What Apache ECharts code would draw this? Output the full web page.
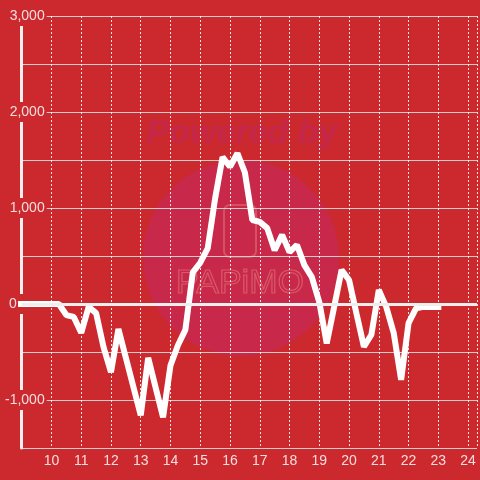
<!DOCTYPE html>
<html>
<head>
<meta charset="utf-8">
<script src="https://cdn.jsdelivr.net/npm/echarts@6/dist/echarts.min.js"></script>
<style>
html,body{margin:0;padding:0;background:#cc292e;}
#chart{width:480px;height:480px;}
</style>
</head>
<body>
<div id="chart"></div>
<script>
// Hours of day (15-minute samples)
const times = [8.75, 9, 9.25, 9.5, 9.75, 10, 10.25, 10.5, 10.75, 11, 11.25, 11.5, 11.75,
  12, 12.25, 12.5, 12.75, 13, 13.25, 13.5, 13.75, 14, 14.25, 14.5, 14.75,
  15, 15.25, 15.5, 15.75, 16, 16.25, 16.5, 16.75, 17, 17.25, 17.5, 17.75,
  18, 18.25, 18.5, 18.75, 19, 19.25, 19.5, 19.75, 20, 20.25, 20.5, 20.75,
  21, 21.25, 21.5, 21.75, 22, 22.25, 22.5, 22.75, 23];
const values = [0, 0, 0, 0, 0, 0, 0, -115, -135, -300, -30, -95, -450,
  -710, -260, -560, -860, -1160, -560, -870, -1180, -640, -430, -270, 330,
  430, 580, 1100, 1530, 1430, 1570, 1370, 875, 855, 790, 560, 720,
  540, 615, 405, 280, 20, -410, -30, 355, 250, -100, -445, -320,
  145, -30, -300, -790, -200, -45, -30, -30, -30];
const xTickLabels = [10, 11, 12, 13, 14, 15, 16, 17, 18, 19, 20, 21, 22, 23, 24];
const yTickLabels = [-1000, 0, 1000, 2000, 3000];

const BG = '#cc292e';
const chart = echarts.init(document.getElementById('chart'));
const data = times.map((t, i) => [t, values[i]]);

chart.setOption({
  backgroundColor: BG,
  animation: false,
  textStyle: { fontFamily: 'Liberation Sans, Arial, sans-serif' },
  graphic: [
    { type: 'circle', z: -1, silent: true, shape: { cx: 241, cy: 258, r: 98 }, style: { fill: '#c8284a' } },
    { type: 'text', z: -1, silent: true, x: 242, y: 134,
      style: { text: 'Powered by', font: 'italic bold 34px Liberation Sans, Arial, sans-serif', fill: '#c52748', align: 'center', verticalAlign: 'middle' } },
    { type: 'rect', z: -1, silent: true, shape: { x: 224, y: 205, width: 32, height: 52, r: 6 },
      style: { fill: 'none', stroke: '#d65260', lineWidth: 2 } },
    { type: 'text', z: -1, silent: true, x: 240, y: 284,
      style: { text: 'PAPiMO', font: '34px Liberation Sans, Arial, sans-serif', fill: 'none', stroke: '#d95a68', lineWidth: 1.2, align: 'center', verticalAlign: 'middle' } }
  ],
  grid: { left: 21, right: 0, top: 16, bottom: 32, containLabel: false },
  xAxis: {
    type: 'value', min: 9, max: 24.3, interval: 1,
    axisLine: { show: false }, axisTick: { show: false },
    axisLabel: {
      color: '#f3dede', fontSize: 14, margin: 6,
      formatter: v => (xTickLabels.indexOf(v) >= 0 ? String(v) : '')
    },
    splitLine: { show: true, lineStyle: { color: 'rgba(255,255,255,0.85)', width: 1, type: [2, 2] } }
  },
  yAxis: {
    type: 'value', min: -1500, max: 3000, interval: 500,
    axisLine: { show: true, onZero: false, lineStyle: { color: '#f4f0f0', width: 3 } },
    axisTick: { show: false },
    axisLabel: {
      color: '#f3dede', fontSize: 14, margin: -25,
      backgroundColor: BG, padding: [3, 2, 3, 2],
      formatter: v => {
        if (yTickLabels.indexOf(v) < 0) return '';
        if (v === 0) return '{z|0}';
        return v.toLocaleString('en-US');
      },
      rich: { z: { color: '#f3dede', fontSize: 14, padding: [0, 28, 0, 0] } }
    },
    splitLine: { show: true, lineStyle: { color: '#d6cccc', width: 1 } }
  },
  series: [{
    type: 'line',
    data: data,
    showSymbol: false,
    clip: true,
    lineStyle: { color: '#ffffff', width: 6, cap: 'square' },
    markLine: {
      silent: true, symbol: 'none', label: { show: false },
      lineStyle: { color: '#eeeeee', width: 3, type: 'solid' },
      data: [{ yAxis: 0 }]
    }
  }]
});
</script>
</body>
</html>
